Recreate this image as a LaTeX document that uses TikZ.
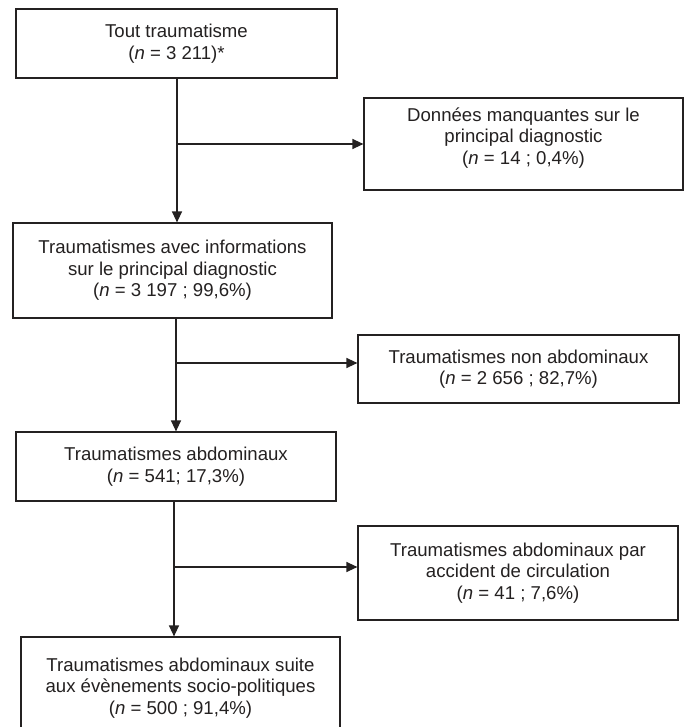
\documentclass[tikz,border=0pt]{standalone}
\usepackage{fontspec}
\setmainfont{Liberation Sans}
\usetikzlibrary{arrows.meta,calc}
\definecolor{ink}{rgb}{0.14,0.13,0.13}
\begin{document}
\begin{tikzpicture}[x=1pt,y=-1pt,
  box/.style={draw=ink,line width=1.2pt,inner sep=0pt,align=center,text=ink,
    font=\fontsize{18.6}{21.5}\selectfont},
  txt/.style={inner sep=0pt,align=center,text=ink,
    font=\fontsize{18.6}{21.5}\selectfont},
  arr/.style={draw=ink,line width=1.3pt,-{Triangle[length=11pt,width=10pt]}}]
\useasboundingbox (0,0) rectangle (688,727);
\clip (0,0) rectangle (688,727);
\fill[white] (0,0) rectangle (688,727);
\node[box,minimum width=321pt,minimum height=69pt] (b1) at (176.5,43.5)
  {Tout traumatisme\\(\textit{n} = 3 211)*};
\node[box,minimum width=319pt,minimum height=92pt] (d1) at (523.5,144) {};
\node[txt] (d1t) at ($(d1.center)+(0,-6)$)
  {Données manquantes sur le\\principal diagnostic\\(\textit{n} = 14 ; 0,4\%)};
\node[box,minimum width=319pt,minimum height=95pt] (b2) at (172.5,270.5)
  {Traumatismes avec informations\\sur le principal diagnostic\\(\textit{n} = 3 197 ; 99,6\%)};
\node[box,minimum width=321pt,minimum height=68pt] (d2) at (518.5,369)
  {Traumatismes non abdominaux\\(\textit{n} = 2 656 ; 82,7\%)};
\node[box,minimum width=320pt,minimum height=69pt] (b3) at (176,466.5)
  {Traumatismes abdominaux\\(\textit{n} = 541; 17,3\%)};
\node[box,minimum width=320pt,minimum height=94pt] (d3) at (518,573)
  {Traumatismes abdominaux par\\accident de circulation\\(\textit{n} = 41 ; 7,6\%)};
\node[box,minimum width=319pt,minimum height=102pt] (b4) at (180.5,688)
  {Traumatismes abdominaux suite\\aux évènements socio-politiques\\(\textit{n} = 500 ; 91,4\%)};
\coordinate (j1) at (177,144);
\coordinate (j2) at (176,363);
\coordinate (j3) at (174,567);
\draw[arr] (b1.south -| j1) -- (b2.north -| j1);
\draw[arr] (j1) -- (d1.west |- j1);
\draw[arr] (b2.south -| j2) -- (b3.north -| j2);
\draw[arr] (j2) -- (d2.west |- j2);
\draw[arr] (b3.south -| j3) -- (b4.north -| j3);
\draw[arr] (j3) -- (d3.west |- j3);
\end{tikzpicture}
\end{document}
